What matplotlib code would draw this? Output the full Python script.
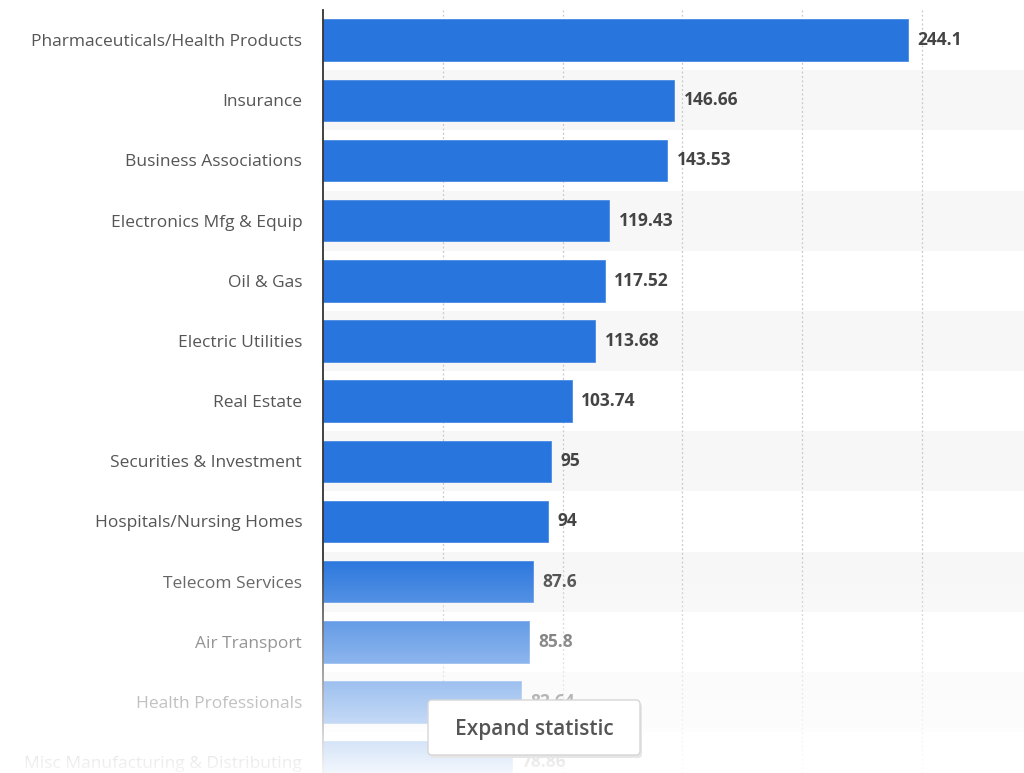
import numpy as np
import matplotlib
matplotlib.use("Agg")
import matplotlib.pyplot as plt
from matplotlib.patches import FancyBboxPatch

categories = [
    "Pharmaceuticals/Health Products",
    "Insurance",
    "Business Associations",
    "Electronics Mfg & Equip",
    "Oil & Gas",
    "Electric Utilities",
    "Real Estate",
    "Securities & Investment",
    "Hospitals/Nursing Homes",
    "Telecom Services",
    "Air Transport",
    "Health Professionals",
    "Misc Manufacturing & Distributing",
]
values = [244.1, 146.66, 143.53, 119.43, 117.52, 113.68, 103.74, 95, 94, 87.6, 85.8, 82.64, 78.86]
value_labels = ["244.1", "146.66", "143.53", "119.43", "117.52", "113.68", "103.74",
                "95", "94", "87.6", "85.8", "82.64", "78.86"]
grid_ticks = [50, 100, 150, 200, 250]

plt.rcParams["font.family"] = ["Open Sans", "DejaVu Sans"]

W, H = 1024, 773
fig = plt.figure(figsize=(W / 100, H / 100), dpi=100)
fig.patch.set_facecolor("white")

left_px, top_px = 323, 10
ax = fig.add_axes([left_px / W, 0, (W - left_px) / W, (H - top_px) / H])
ax.set_xlim(0, 292.5)
ax.set_ylim(12.18, -0.5)

y = np.arange(len(categories))

# alternating row stripes
for i in y:
    if i % 2 == 1:
        ax.axhspan(i - 0.5, i + 0.5, color="#f7f7f7", zorder=0, lw=0)

for t in grid_ticks:
    ax.axvline(t, color="#c8c8c8", lw=0.9, ls=(0, (1.5, 2)), zorder=1)

ax.barh(y, values, height=0.69, color="#2875dd", edgecolor="#4a8ae4", lw=0.6, zorder=2)

for yi, v, lab in zip(y, values, value_labels):
    ax.text(v + 4, yi, lab, va="center", ha="left", fontsize=12.5, fontweight="bold",
            color="#444444", zorder=3)

ax.set_yticks(y)
ax.set_yticklabels(categories, fontsize=12.5, color="#555555")
ax.tick_params(axis="y", length=0, pad=15)
ax.set_xticks([])
for s in ["top", "right", "bottom"]:
    ax.spines[s].set_visible(False)
ax.spines["left"].set_color("#333333")
ax.spines["left"].set_linewidth(1.3)
ax.set_facecolor("none")

# white fade toward the bottom of the figure
ov = fig.add_axes([0, 0, 1, 1], zorder=5)
ov.set_xlim(0, W)
ov.set_ylim(H, 0)
ov.axis("off")
ys = np.arange(H)
alpha = np.clip((ys - 555) / (773 - 555), 0, 1) * 0.95
grad = np.ones((H, 1, 4))
grad[:, 0, 3] = alpha
ov.imshow(grad, extent=[0, W, H, 0], aspect="auto", interpolation="bilinear")

# "Expand statistic" button
shadow = FancyBboxPatch((430, 703), 212, 55, boxstyle="round,pad=0,rounding_size=4",
                        fc="#e6e6e6", ec="none", zorder=6)
ov.add_patch(shadow)
btn = FancyBboxPatch((428, 700), 212, 55, boxstyle="round,pad=0,rounding_size=4",
                     fc="white", ec="#d6d6d6", lw=1, zorder=7)
ov.add_patch(btn)
ov.text(534, 729, "Expand statistic", ha="center", va="center", fontsize=15,
        fontweight="semibold", color="#555555", zorder=8)

fig.savefig("out.png", dpi=100)
